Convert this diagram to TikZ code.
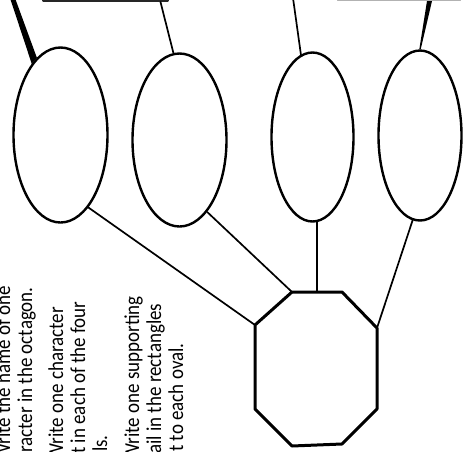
\documentclass[tikz,border=0pt]{standalone}
\usepackage{fontspec}
\setmainfont{Carlito}
\usetikzlibrary{shapes.geometric, calc}

\tikzset{
  oval/.style={draw, ellipse, line width=2.4pt, inner sep=0pt},
  link/.style={line width=1.7pt},
  octa/.style={line width=3pt},
  note/.style={rotate=90, anchor=base west, inner sep=0pt,
               font=\fontsize{19}{22}\selectfont},
}
\newcommand{\tallline}[1]{\scalebox{1}[1.12]{#1}}

\begin{document}
\begin{tikzpicture}[x=1pt, y=-1pt, line join=round, line cap=round]
  \useasboundingbox (0,0) rectangle (469,451);

  % instructions, turned on their side
  \node[note] (step1a) at (10,461) {\tallline{Write the name of one}};
  \node[note] (step1b) at (32,453) {\tallline{racter in the octagon.}};
  \node[note] (step2a) at (63,461) {\tallline{Write one character}};
  \node[note] (step2b) at (85,454) {\tallline{t in each of the four}};
  \node[note] (step2c) at (107,452) {\tallline{ls.}};
  \node[note] (step3a) at (139,461) {\tallline{Write one supporting}};
  \node[note] (step3b) at (161,454) {\tallline{ail in the rectangles}};
  \node[note] (step3c) at (183,452) {\tallline{t to each oval.}};

  % the four ovals
  \node[oval, minimum width=94pt, minimum height=175pt] (oval1) at (60.5,135) {};
  \node[oval, minimum width=94pt, minimum height=173pt] (oval2) at (179.5,140) {};
  \node[oval, minimum width=82pt, minimum height=169pt] (oval3) at (312.5,137) {};
  \node[oval, minimum width=83pt, minimum height=170pt] (oval4) at (420,135.5) {};

  % boxes at the top edge
  \node[draw=black!85, line width=2.5pt, minimum width=124pt, minimum height=40pt,
        anchor=south west] (box1) at (42,2) {};
  \node[draw=gray!60, line width=1pt, minimum width=123pt, minimum height=40pt,
        anchor=south west] (box2) at (337,1) {};

  % octagon
  \coordinate (h1) at (292,292);
  \coordinate (h2) at (342,292);
  \coordinate (h3) at (377,328);
  \coordinate (h4) at (377,409);
  \coordinate (h5) at (342,444);
  \coordinate (h6) at (292,446);
  \coordinate (h7) at (255,409);
  \coordinate (h8) at (255,325);
  \draw[octa] (h1) -- (h2) -- (h3) -- (h4) -- (h5) -- (h6) -- (h7) -- (h8) -- cycle;

  % ovals down to the octagon
  \draw[link] (oval1.-69) -- (h8);
  \draw[link] (oval2.-69) -- (h1);
  \draw[link] (oval3.-87) -- (oval3.-87 |- h1);
  \draw[link] (oval4.-95) -- (h3);

  % ovals up to the boxes
  \coordinate (up1) at (12.5,-2);
  \coordinate (up3) at (293,-2);
  \fill (oval1.107) -- (oval1.112) -- ($(up1)+(-2.5,0)$) -- ($(up1)+(2.5,0)$) -- cycle;
  \draw[link] (oval2.94) -- ($(box1.south east)+(-8,0)$);
  \draw[link] (oval3.98.5) -- (up3);
  \fill ($(oval4.90)+(-0.7,0)$) -- ($(box2.south west)+(90,0)$)
        -- ($(box2.south west)+(95,0)$) -- ($(oval4.90)+(0.7,0)$) -- cycle;
\end{tikzpicture}
\end{document}
